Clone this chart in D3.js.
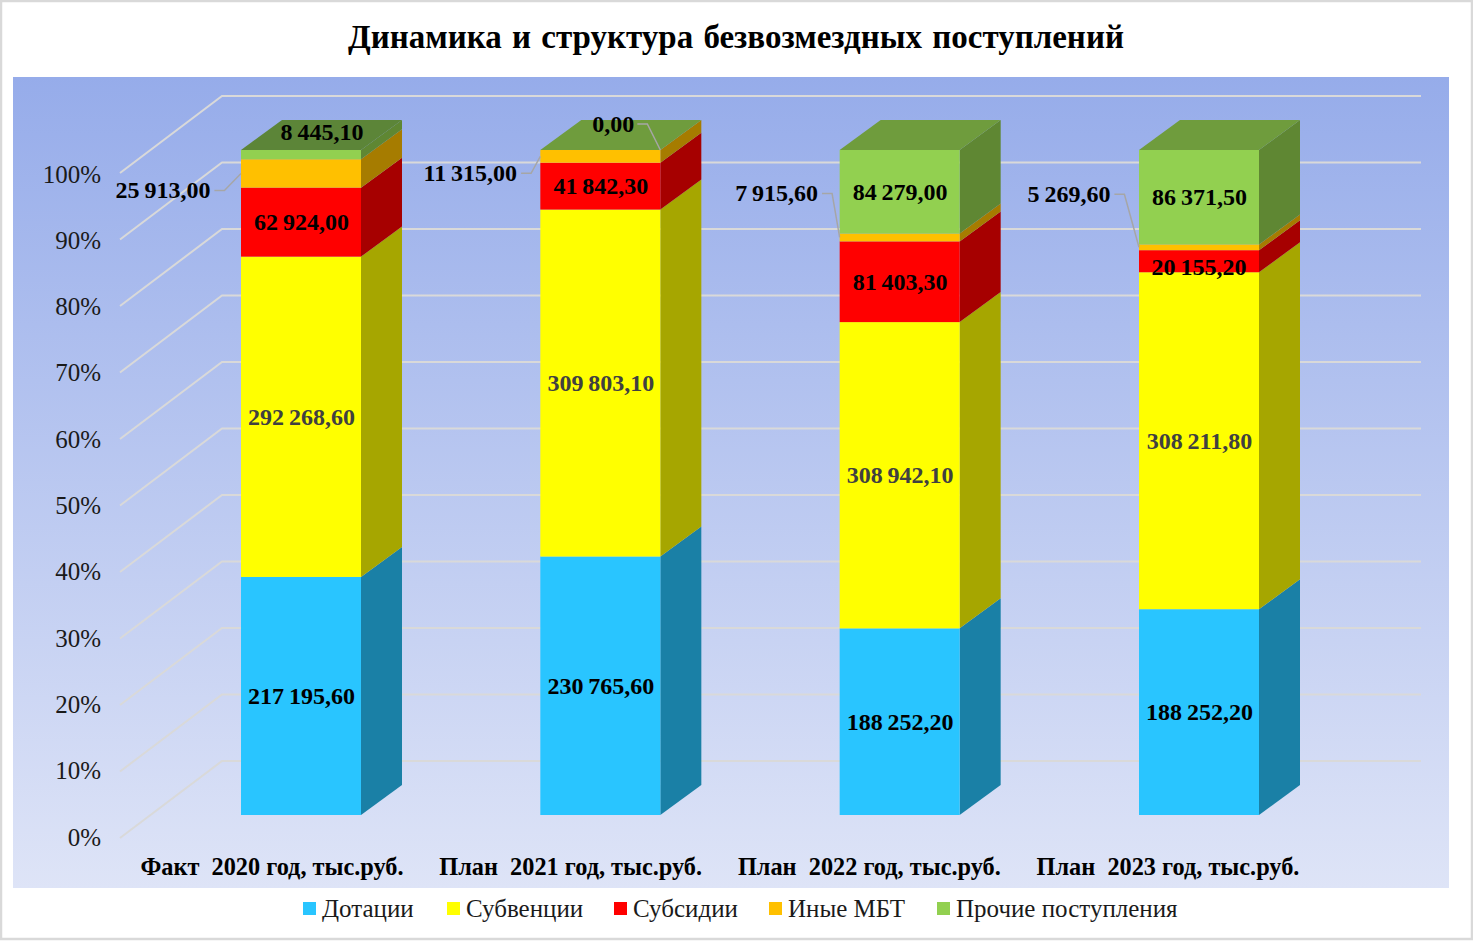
<!DOCTYPE html>
<html>
<head>
    <meta charset="utf-8">
    <title>Динамика и структура безвозмездных поступлений</title>
    <script src="https://d3js.org/d3.v7.min.js"></script>
    <style>
        body { margin: 0; background: #fff; }
        svg { display: block; }
        text { font-family: "Liberation Serif", serif; }
    </style>
</head>
<body>
    <div id="chart"></div>
    <script>
        const categories = ["Факт  2020 год, тыс.руб.", "План  2021 год, тыс.руб.", "План  2022 год, тыс.руб.", "План  2023 год, тыс.руб."];
        const seriesNames = ["Дотации", "Субвенции", "Субсидии", "Иные МБТ", "Прочие поступления"];
        const dotacii = [217195.6, 230765.6, 188252.2, 188252.2];
        const subvencii = [292268.6, 309803.1, 308942.1, 308211.8];
        const subsidii = [62924.0, 41842.3, 81403.3, 20155.2];
        const inye = [25913.0, 11315.0, 7915.6, 5269.6];
        const prochie = [8445.1, 0.0, 84279.0, 86371.5];
        const allSeries = [dotacii, subvencii, subsidii, inye, prochie];

        const frontColors = ["#29C5FF", "#FFFF00", "#FF0000", "#FFC000", "#92D050"];
        const sideColors = ["#1A80A6", "#A6A600", "#A60000", "#A67C00", "#5F8733"];
        const topColors = ["#5C8538", "#6F9C3D", "#6F9C3D", "#6F9C3D"];
        const legendX = [303, 447, 614, 769, 937];

        // labels moved off their segment: [category, series, dx, dy, leader side]
        const movedLabels = [
            [0, 3, -138, 17, "left"],
            [1, 3, -130, 17, "left"],
            [2, 3, -123, -44, "left"],
            [3, 3, -130, -53, "left"],
            [1, 4, 13, -26, "right"],
            [0, 4, 21, -23, null],
            [3, 2, 0, 6, null]
        ];

        const width = 1473, height = 941;
        const barWidth = 120, depthX = 41, depthY = 30;

        const svg = d3.select("#chart").append("svg")
            .attr("width", width)
            .attr("height", height);

        const defs = svg.append("defs");
        const grad = defs.append("linearGradient").attr("id", "plotBg")
            .attr("x1", 0).attr("y1", 0).attr("x2", 0).attr("y2", 1);
        grad.append("stop").attr("offset", "0%").attr("stop-color", "#96ACEA");
        grad.append("stop").attr("offset", "100%").attr("stop-color", "#DEE4F7");

        // outer frame and plot background
        svg.append("rect").attr("x", 1).attr("y", 1).attr("width", width - 2).attr("height", height - 3)
            .attr("fill", "#fff").attr("stroke", "#D9D9D9").attr("stroke-width", 2.5);
        svg.append("rect").attr("x", 13).attr("y", 77).attr("width", 1436).attr("height", 811)
            .attr("fill", "url(#plotBg)");

        svg.append("text").attr("x", 736).attr("y", 48).attr("text-anchor", "middle")
            .attr("font-size", 33).attr("font-weight", "bold").attr("fill", "#000")
            .attr("word-spacing", 2)
            .text("Динамика и структура безвозмездных поступлений");

        // scales
        const yWall = d3.scaleLinear().domain([0, 1]).range([838, 173]);
        const yAxisScale = d3.scaleLinear().domain([0, 1]).range([837, 174]);
        const yBar = d3.scaleLinear().domain([0, 1]).range([815, 150]);
        const yBack = d3.scaleLinear().domain([0, 1]).range([761, 96]);
        const xBar = d3.scalePoint().domain(d3.range(categories.length)).range([301, 1199]);
        const xLabel = d3.scalePoint().domain(categories).range([272, 1168]);

        // gridlines: side wall then back wall
        const ticks = d3.range(0, 11).map(d => d / 10);
        svg.append("g").selectAll("polyline").data(ticks).enter().append("polyline")
            .attr("points", d => `120,${yWall(d)} 222,${yBack(d)} 1421,${yBack(d)}`)
            .attr("fill", "none")
            .attr("stroke", "#D9D9D9")
            .attr("stroke-width", 2);

        const yAxis = d3.axisLeft(yAxisScale).tickValues(ticks).tickFormat(d3.format(".0%")).tickSize(0).tickPadding(0);
        const yG = svg.append("g").attr("transform", "translate(101,0)").call(yAxis);
        yG.select(".domain").remove();
        yG.selectAll("text").attr("font-size", 25).attr("fill", "#1a1a1a").attr("font-family", "Liberation Serif");

        const xAxis = d3.axisBottom(xLabel).tickSize(0).tickPadding(0);
        const xG = svg.append("g").attr("transform", "translate(-0.5,858)").call(xAxis);
        xG.select(".domain").remove();
        xG.selectAll("text").attr("font-size", 24.3).attr("font-weight", "bold").attr("fill", "#000")
            .attr("font-family", "Liberation Serif").style("white-space", "pre");

        // stack to shares
        const stacks = categories.map((c, i) => {
            const total = d3.sum(allSeries, s => s[i]);
            let acc = 0;
            return allSeries.map((s, k) => {
                const seg = { cat: i, series: k, value: s[i], y0: acc / total, y1: (acc + s[i]) / total };
                acc += s[i];
                return seg;
            });
        });

        const bars = svg.append("g").selectAll("g").data(stacks).enter().append("g");
        bars.each(function (segs, i) {
            const g = d3.select(this);
            const x0 = xBar(i) - barWidth / 2, x1 = x0 + barWidth;
            segs.forEach(d => {
                g.append("polygon")
                    .attr("points", [[x1, yBar(d.y0)], [x1 + depthX, yBar(d.y0) - depthY], [x1 + depthX, yBar(d.y1) - depthY], [x1, yBar(d.y1)]].join(" "))
                    .attr("fill", sideColors[d.series]);
                g.append("rect")
                    .attr("x", x0).attr("y", yBar(d.y1))
                    .attr("width", barWidth).attr("height", yBar(d.y0) - yBar(d.y1))
                    .attr("fill", frontColors[d.series]);
            });
            g.append("polygon")
                .attr("points", [[x0, yBar(1)], [x0 + depthX, yBar(1) - depthY], [x1 + depthX, yBar(1) - depthY], [x1, yBar(1)]].join(" "))
                .attr("fill", topColors[i]);
        });

        // value labels, thousands split by a thin space
        const fmt = v => d3.format(",.2f")(v).replace(/,/g, "\u2009").replace(".", ",");
        const labelLayer = svg.append("g");
        stacks.flat().forEach(d => {
            const moved = movedLabels.find(m => m[0] === d.cat && m[1] === d.series);
            const cx = xBar(d.cat), cy = (yBar(d.y0) + yBar(d.y1)) / 2;
            const lx = cx + (moved ? moved[2] : 0.5), ly = cy + (moved ? moved[3] : 0);
            const label = labelLayer.append("text")
                .attr("x", lx).attr("y", ly).attr("dy", "0.33em")
                .attr("text-anchor", "middle")
                .attr("font-size", 24).attr("font-weight", "bold")
                .attr("fill", d.series === 1 ? "#404040" : "#000")
                .text(fmt(d.value));
            if (moved && moved[4]) {
                const half = label.node().getComputedTextLength() / 2;
                const startX = lx + half + (moved[4] === "left" ? 4 : 3);
                const elbowX = startX + 10;
                const endX = moved[4] === "left" ? cx - barWidth / 2 : cx + barWidth / 2;
                const points = [[startX, ly], [elbowX, ly], [endX, cy]];
                labelLayer.append("polyline")
                    .attr("points", points.join(" "))
                    .attr("fill", "none").attr("stroke", "#A6A6A6").attr("stroke-width", 1.5);
            }
        });

        // legend
        const legend = svg.append("g").selectAll("g").data(seriesNames).enter().append("g")
            .attr("transform", (d, i) => `translate(${legendX[i]},902)`);
        legend.append("rect").attr("width", 13).attr("height", 13)
            .attr("fill", (d, i) => frontColors[i]);
        legend.append("text").attr("x", 19).attr("y", 15)
            .attr("font-size", 25).attr("fill", "#1a1a1a")
            .text(d => d);
    </script>
</body>
</html>
